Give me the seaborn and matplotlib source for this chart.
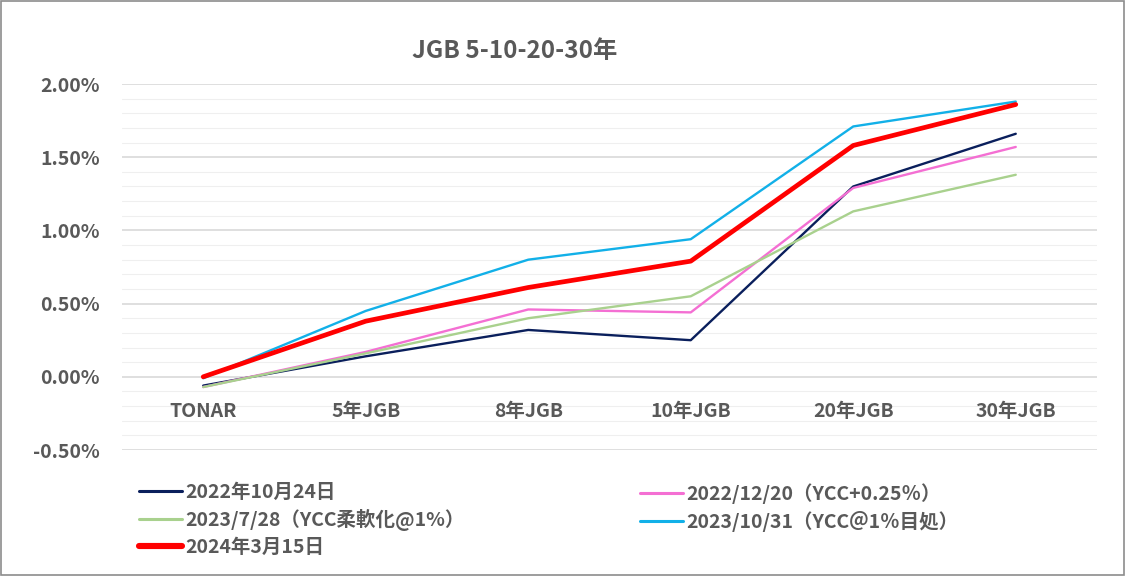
import numpy as np
import pandas as pd
import seaborn as sns
import matplotlib
matplotlib.use("Agg")
from matplotlib import pyplot as plt
from matplotlib.ticker import MultipleLocator, FuncFormatter
from matplotlib.patches import Rectangle

# data (yields in %)
categories = ["TONAR", "5年JGB", "8年JGB", "10年JGB", "20年JGB", "30年JGB"]
labels = ["2022年10月24日", "2022/12/20（YCC+0.25％）", "2023/7/28（YCC柔軟化@1%）",
          "2023/10/31（YCC＠1％目処）", "2024年3月15日"]
y_20221024 = [-0.06, 0.14, 0.32, 0.25, 1.30, 1.66]
y_20221220 = [-0.07, 0.17, 0.46, 0.44, 1.29, 1.57]
y_20230728 = [-0.07, 0.16, 0.40, 0.55, 1.13, 1.38]
y_20231031 = [-0.01, 0.45, 0.80, 0.94, 1.71, 1.88]
y_20240315 = [0.00, 0.38, 0.61, 0.79, 1.58, 1.86]

series = [y_20221024, y_20221220, y_20230728, y_20231031, y_20240315]
colors = ["#0A1F5C", "#F46FD3", "#A9D18E", "#12B0E8", "#FF0000"]
widths = [1.7, 1.7, 1.7, 1.7, 3.4]

TXT = "#595959"

sns.set_style("white")
plt.rcParams["font.family"] = ["Noto Sans CJK JP", "DejaVu Sans"]

fig = plt.figure(figsize=(11.26, 5.76), dpi=100)
ax = fig.add_axes([122 / 1126, 1 - 450 / 576, 975 / 1126, 366 / 576])

lines = []
for lab, vals, c, w in zip(labels, series, colors, widths):
    df = pd.DataFrame({"x": np.arange(len(categories)), "y": vals})
    sns.lineplot(data=df, x="x", y="y", ax=ax, color=c, linewidth=w, label=lab, legend=False)
    lines.append(ax.lines[-1])

ax.set_xlim(-0.5, len(categories) - 0.5)
ax.set_ylim(-0.5, 2.0)
ax.yaxis.set_major_locator(MultipleLocator(0.5))
ax.yaxis.set_minor_locator(MultipleLocator(0.1))
ax.yaxis.set_major_formatter(FuncFormatter(lambda v, p: f"{v:.2f}%"))
ax.grid(which="major", axis="y", color="#D9D9D9", linewidth=1.2, zorder=0)
ax.grid(which="minor", axis="y", color="#EFEFEF", linewidth=0.8, zorder=0)
ax.set_axisbelow(True)

ax.set_xticks(np.arange(len(categories)))
ax.set_xticklabels(categories)
ax.spines["bottom"].set_position(("data", 0))
for s in ax.spines.values():
    s.set_visible(False)
ax.tick_params(axis="both", which="both", length=0, colors=TXT, labelsize=14)
ax.tick_params(axis="y", pad=16)
ax.tick_params(axis="x", pad=18)
for t in ax.get_xticklabels() + ax.get_yticklabels():
    t.set_fontweight("bold")
# category labels sit over the minor gridlines, so draw the x axis on top
ax.xaxis.set_zorder(3)
ax.set_xlabel("")
ax.set_ylabel("")

fig.text(515 / 1126, 1 - 51 / 576, "JGB 5-10-20-30年", ha="center", va="center",
         fontsize=17.5, fontweight="bold", color=TXT)

# legend in two columns placed like the original
leg_kw = dict(loc="upper left", frameon=False, handlelength=2.2,
              handletextpad=0.2, labelspacing=0.36, borderpad=0, borderaxespad=0,
              prop={"weight": "bold", "size": 14})
leg1 = fig.legend([lines[0], lines[2], lines[4]], [labels[0], labels[2], labels[4]],
                  bbox_to_anchor=(139 / 1126, 1 - 483 / 576), **leg_kw)
leg2 = fig.legend([lines[1], lines[3]], [labels[1], labels[3]],
                  bbox_to_anchor=(640 / 1126, 1 - 483 / 576), **leg_kw)
for leg in (leg1, leg2):
    for t in leg.get_texts():
        t.set_color(TXT)
    # legend samples look a bit thicker than the plotted lines
    for h in leg.get_lines():
        h.set_linewidth(h.get_linewidth() * 1.3)

fig.patches.append(Rectangle((0.0005, 0.001), 0.998, 0.997, transform=fig.transFigure,
                             fill=False, edgecolor="#8C8C8C", linewidth=1.2))

fig.savefig("out.png", dpi=100, facecolor="white")
